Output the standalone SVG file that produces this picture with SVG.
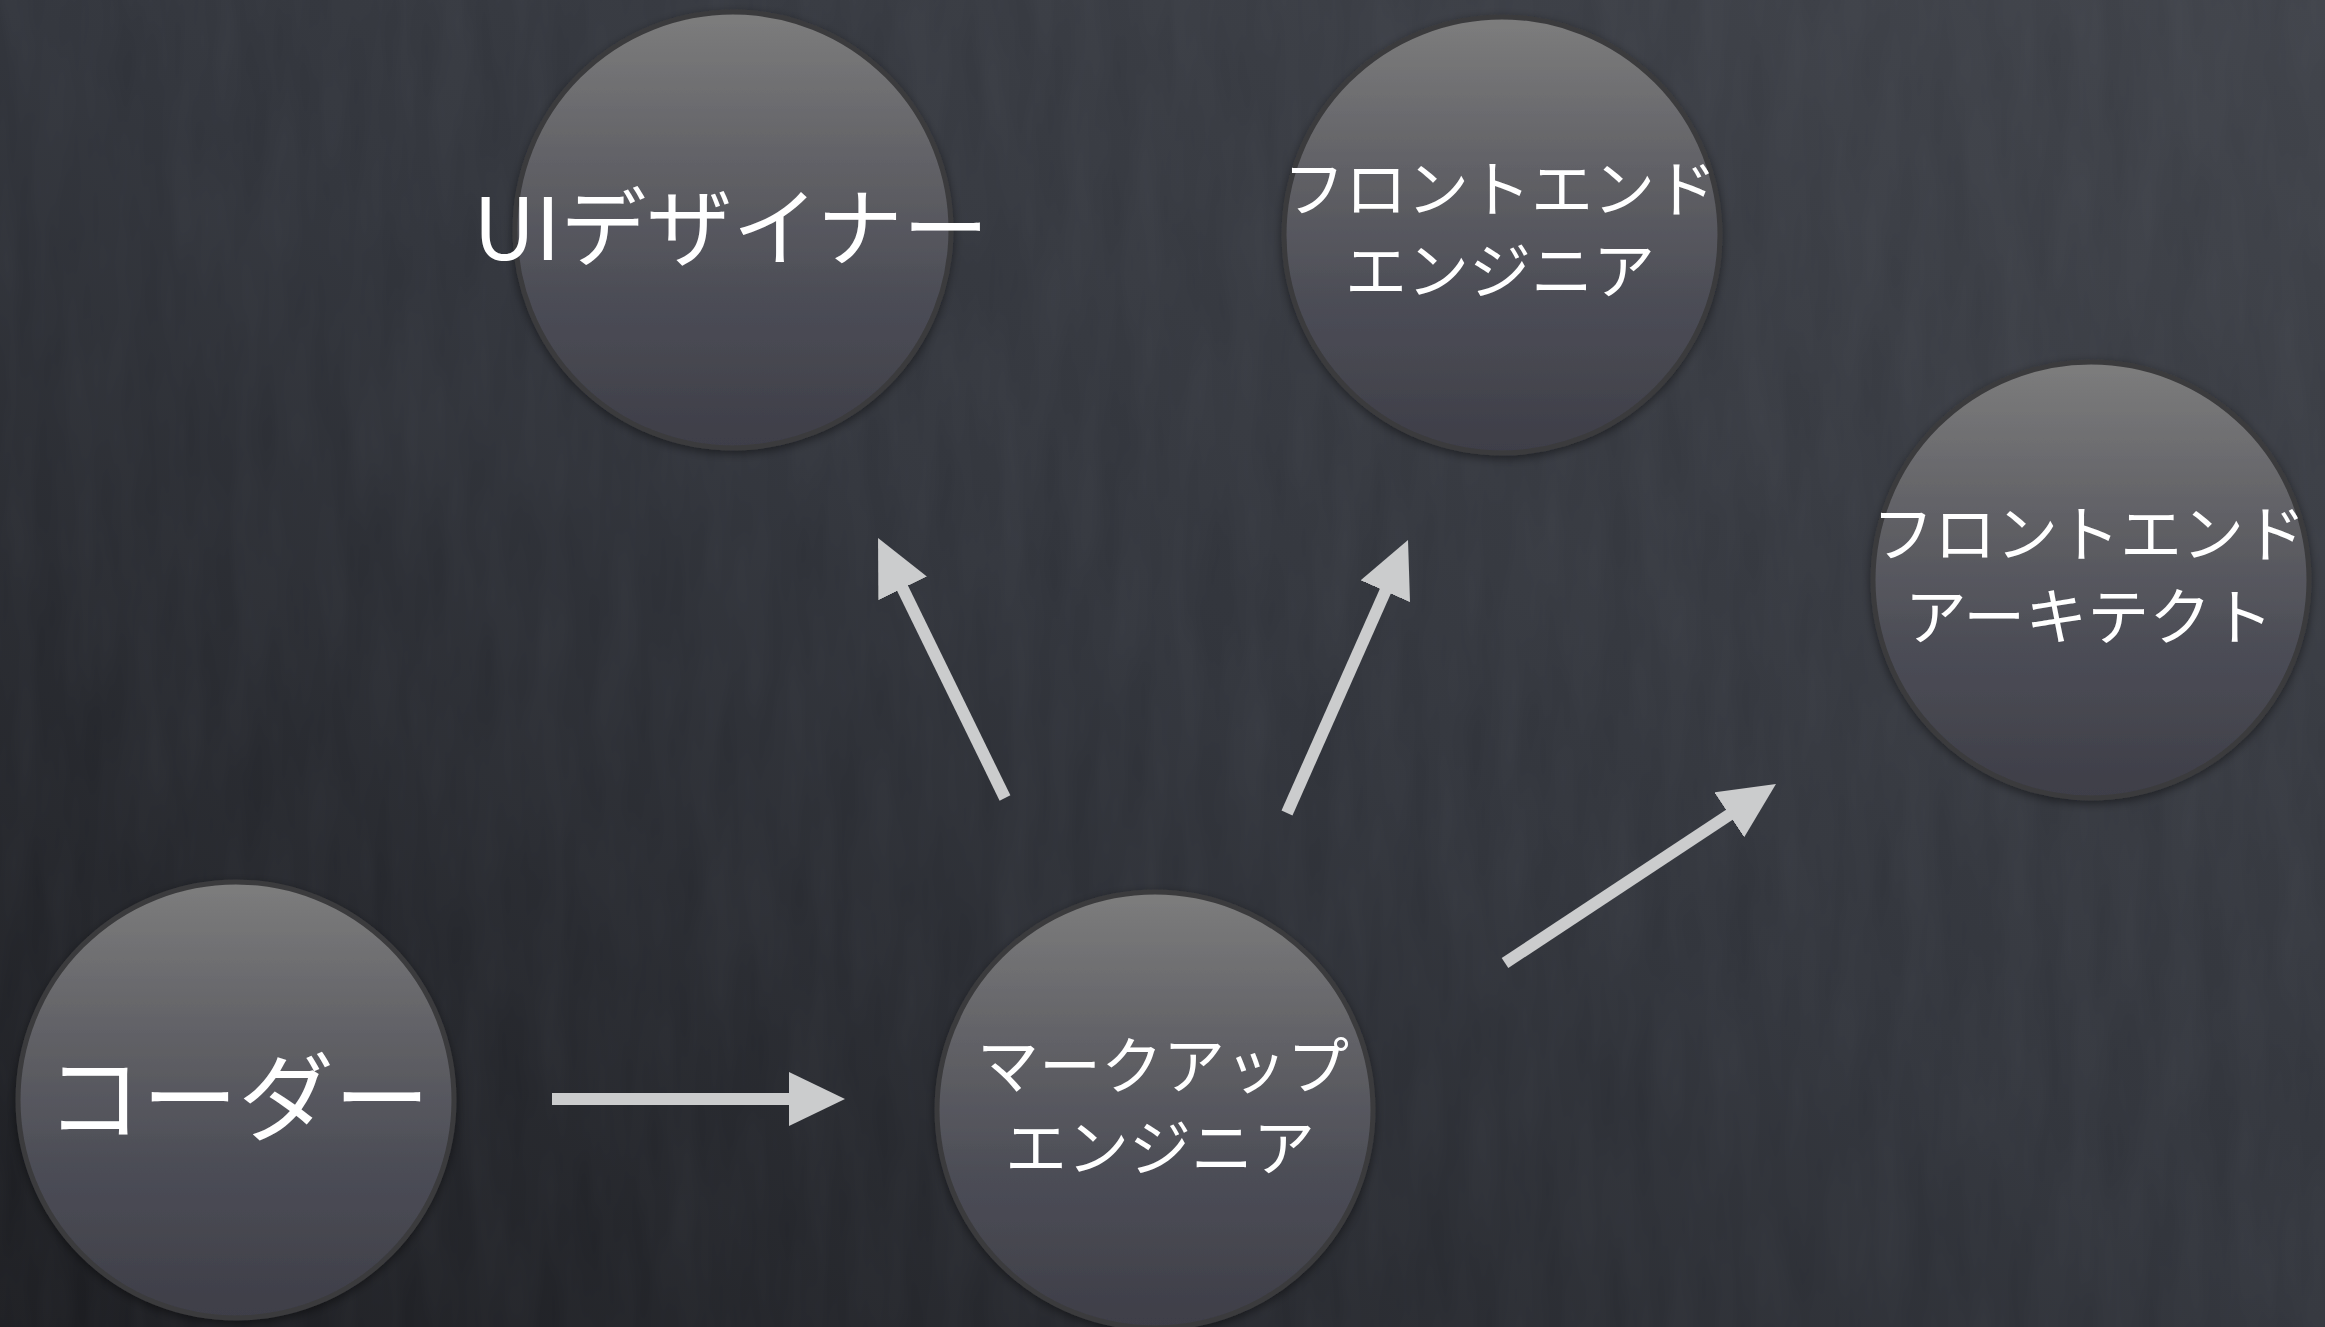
<svg xmlns="http://www.w3.org/2000/svg" width="2325" height="1327" viewBox="0 0 2325 1327">
  <defs>
    <linearGradient id="bg" x1="1" y1="0" x2="0" y2="1">
      <stop offset="0" stop-color="#3e4148"/>
      <stop offset="0.5" stop-color="#30333a"/>
      <stop offset="1" stop-color="#1a1b1f"/>
    </linearGradient>
    <linearGradient id="ball" x1="0" y1="0" x2="0" y2="1">
      <stop offset="0" stop-color="#7d7d7d"/>
      <stop offset="0.35" stop-color="#616166"/>
      <stop offset="0.65" stop-color="#4c4d56"/>
      <stop offset="1" stop-color="#3e3e48"/>
    </linearGradient>
    <filter id="chalk" x="0" y="0" width="100%" height="100%">
      <feTurbulence type="fractalNoise" baseFrequency="0.03 0.006" numOctaves="3" seed="7" result="n"/>
      <feColorMatrix in="n" type="matrix" values="0 0 0 0 0.6  0 0 0 0 0.62  0 0 0 0 0.7  0 0 0 0.06 0"/>
    </filter>
    <filter id="shadow" x="-20%" y="-20%" width="140%" height="140%">
      <feDropShadow dx="0" dy="3" stdDeviation="5" flood-color="#000" flood-opacity="0.45"/>
    </filter>
    <marker id="head" markerUnits="userSpaceOnUse" markerWidth="56" markerHeight="54" refX="16" refY="27" orient="auto" viewBox="0 0 56 54">
      <path d="M0,0 L56,27 L0,54 Z" fill="#cbcccd"/>
    </marker>
    <style>
      .node circle { fill: url(#ball); stroke: #3b3b3d; stroke-width: 5; filter: url(#shadow); }
      .node text { fill: #ffffff; font-family: "Noto Sans CJK JP", "Noto Sans", sans-serif; text-anchor: middle; }
      .big { font-size: 86px; }
      .huge { font-size: 96px; }
      .mid { font-size: 62px; }
      .conn line { stroke: #cbcccd; stroke-width: 12; stroke-linecap: butt; marker-end: url(#head); }
    </style>
  </defs>

  <rect x="0" y="0" width="2325" height="1327" fill="url(#bg)"/>
  <rect x="0" y="0" width="2325" height="1327" filter="url(#chalk)"/>

  <g id="ui-designer" class="node">
    <circle cx="733" cy="230" r="218"/>
    <text class="big" x="731" y="260">UIデザイナー</text>
  </g>

  <g id="frontend-engineer" class="node">
    <circle cx="1502" cy="235" r="218"/>
    <text class="mid" x="1500" y="212">フロントエンド</text>
    <text class="mid" x="1500" y="294">エンジニア</text>
  </g>

  <g id="frontend-architect" class="node">
    <circle cx="2091" cy="580" r="218"/>
    <text class="mid" x="2089" y="557">フロントエンド</text>
    <text class="mid" x="2089" y="640">アーキテクト</text>
  </g>

  <g id="coder" class="node">
    <circle cx="236" cy="1100" r="218"/>
    <text class="huge" x="238" y="1133">コーダー</text>
  </g>

  <g id="markup-engineer" class="node">
    <circle cx="1155" cy="1110" r="218"/>
    <text class="mid" x="1163" y="1089">マークアップ</text>
    <text class="mid" x="1160" y="1171">エンジニア</text>
  </g>

  <g id="connectors" class="conn">
    <line x1="552" y1="1099" x2="805" y2="1099"/>
    <line x1="1005" y1="798" x2="895.6" y2="574"/>
    <line x1="1287" y1="813" x2="1391.8" y2="576.6"/>
    <line x1="1505" y1="963" x2="1742.6" y2="806"/>
  </g>
</svg>
